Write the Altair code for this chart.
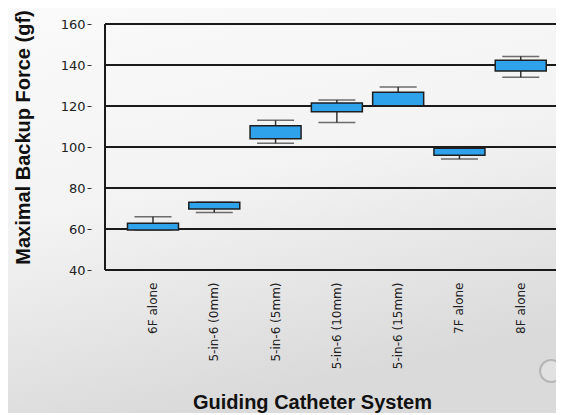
import altair as alt
import pandas as pd

categories = ["6F alone", "5-in-6 (0mm)", "5-in-6 (5mm)", "5-in-6 (10mm)",
              "5-in-6 (15mm)", "7F alone", "8F alone"]
whisker_low = [59.5, 68.0, 101.8, 112.0, 120.1, 94.1, 134.0]
q1 = [59.5, 69.8, 104.0, 117.2, 120.1, 96.0, 137.1]
q3 = [62.8, 73.0, 110.4, 121.5, 126.7, 99.4, 142.3]
whisker_high = [66.0, 73.0, 113.0, 122.9, 129.3, 99.4, 144.2]
y_ticks = [40, 60, 80, 100, 120, 140, 160]

df = pd.DataFrame({"cat": categories, "lo": whisker_low, "q1": q1,
                   "q3": q3, "hi": whisker_high})
grid_df = pd.DataFrame({"v": y_ticks})

W, H = 451, 246

xscale = alt.Scale(domain=categories, paddingInner=0, paddingOuter=0.179, align=0.79)
yscale = alt.Scale(domain=[40, 160], nice=False, zero=False)

x_axis = alt.Axis(
    title="Guiding Catheter System", labelAngle=-90, labelPadding=12,
    labelFont="DejaVu Sans", labelFontSize=12, labelColor="#222",
    domain=False, ticks=False, grid=False, zindex=1,
    titleFont="Liberation Sans", titleFontSize=20, titleFontWeight="bold",
    titleColor="#111", titleX=207, titleY=138, titleBaseline="alphabetic",
)
y_axis = alt.Axis(
    title="Maximal Backup Force (gf)", values=y_ticks, offset=14,
    domain=False, grid=False, ticks=True, tickSize=4, tickColor="#333",
    labelPadding=2, labelFont="DejaVu Sans", labelFontSize=13, labelColor="#222",
    titleFont="Liberation Sans", titleFontSize=20, titleFontWeight="bold",
    titleColor="#111", titlePadding=27, titleY=113, zindex=1,
)

bg = alt.Chart(pd.DataFrame({"a": [0]})).mark_rect(
    fill=alt.LinearGradient(
        gradient="linear",
        stops=[alt.GradientStop(color="#fafafa", offset=0),
               alt.GradientStop(color="#f3f3f3", offset=0.5),
               alt.GradientStop(color="#dadada", offset=1)],
        x1=0, x2=0.3, y1=0, y2=1),
).encode(x=alt.value(-97), x2=alt.value(W), y=alt.value(-16), y2=alt.value(389))

grid = alt.Chart(grid_df).mark_rule(color="#1a1a1a", strokeWidth=2).encode(
    y=alt.Y("v:Q", scale=yscale, axis=y_axis),
)

left_border = alt.Chart(pd.DataFrame({"a": [0]})).mark_rule(
    color="#1a1a1a", strokeWidth=2
).encode(x=alt.value(0), y=alt.value(0), y2=alt.value(H))

base = alt.Chart(df).encode(x=alt.X("cat:N", scale=xscale, axis=x_axis, sort=categories))

whisk = base.mark_rule(color="#333", strokeWidth=1.5).encode(
    y=alt.Y("lo:Q", scale=yscale), y2="hi:Q")
cap_lo = base.mark_tick(color="#333", size=37, thickness=1.5).encode(y=alt.Y("lo:Q", scale=yscale))
cap_hi = base.mark_tick(color="#333", size=37, thickness=1.5).encode(y=alt.Y("hi:Q", scale=yscale))
box = base.mark_bar(size=51, color="#2ea3eb", stroke="#1f1f1f", strokeWidth=1.5).encode(
    y=alt.Y("q1:Q", scale=yscale), y2="q3:Q")

deco = alt.Chart(pd.DataFrame({"a": [0]})).mark_point(
    shape="circle", size=480, filled=True, fill="#e4e4e4", stroke="#a8a8a8", strokeWidth=2
).encode(x=alt.value(446), y=alt.value(347))

chart = alt.layer(bg, grid, left_border, whisk, cap_lo, cap_hi, box, deco).properties(
    width=W, height=H,
    autosize=alt.AutoSizeParams(type="none"),
    padding={"left": 97, "top": 16, "right": 0, "bottom": 143},
    background="#eeeeee",
).configure_view(stroke=None)

chart.save("out.html", embed_options={"renderer": "svg", "actions": False})
